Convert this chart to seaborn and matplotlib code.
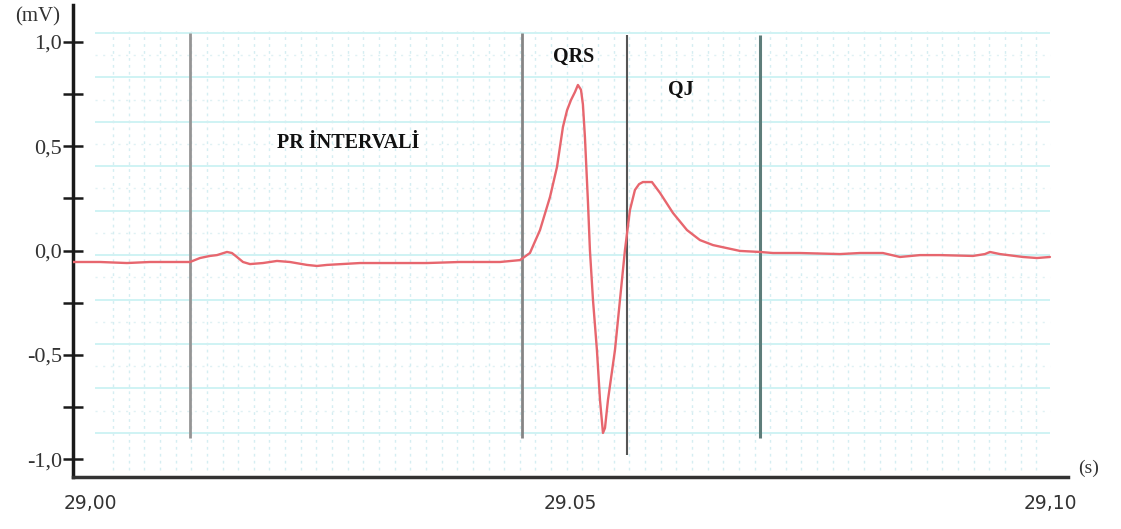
import numpy as np
import pandas as pd
import matplotlib
matplotlib.use("Agg")
import matplotlib.pyplot as plt
import seaborn as sns
from matplotlib.ticker import FixedLocator, FixedFormatter, NullFormatter

# ---------------- data ----------------
time_s = [28.99823, 29.00104, 29.00385, 29.00625, 29.01042, 29.01146, 29.01250,
          29.01323, 29.01427, 29.01479, 29.01531, 29.01594, 29.01667, 29.01802,
          29.01948, 29.02083, 29.02260, 29.02365, 29.02469, 29.02813, 29.03156,
          29.03510, 29.03854, 29.04271, 29.04479, 29.04583, 29.04688, 29.04792,
          29.04865, 29.04927, 29.04970, 29.05010, 29.05052, 29.05083, 29.05115,
          29.05135, 29.05156, 29.05188, 29.05208, 29.05240, 29.05281, 29.05313,
          29.05344, 29.05365, 29.05396, 29.05469, 29.05521, 29.05573, 29.05625,
          29.05677, 29.05720, 29.05760, 29.05854, 29.05938, 29.06073, 29.06219,
          29.06354, 29.06490, 29.06771, 29.06979, 29.07115, 29.07396, 29.07813,
          29.08021, 29.08260, 29.08438, 29.08646, 29.08854, 29.09198, 29.09323,
          29.09375, 29.09427, 29.09479, 29.09719, 29.09865, 29.10000]
voltage_mv = [-0.055, -0.055, -0.060, -0.055, -0.055, -0.036, -0.026,
              -0.022, -0.007, -0.012, -0.031, -0.055, -0.065, -0.060,
              -0.050, -0.055, -0.069, -0.074, -0.069, -0.060, -0.060,
              -0.060, -0.055, -0.055, -0.046, -0.012, 0.098, 0.256,
              0.400, 0.592, 0.672, 0.720, 0.759, 0.793, 0.770,
              0.700, 0.544, 0.228, 0.002, -0.237, -0.477, -0.716,
              -0.874, -0.850, -0.716, -0.477, -0.237, 0.002, 0.194,
              0.290, 0.318, 0.328, 0.328, 0.276, 0.180, 0.098,
              0.050, 0.026, -0.002, -0.007, -0.012, -0.012, -0.017,
              -0.012, -0.012, -0.031, -0.022, -0.022, -0.026, -0.017,
              -0.007, -0.012, -0.017, -0.031, -0.036, -0.031]

interval_bounds = [29.0104, 29.0450, 29.0559, 29.0698]
interval_labels = ["PR İNTERVALİ", "QRS", "QJ"]
label_x = [29.0269, 29.0504, 29.0616]
label_y = [0.515, 0.927, 0.769]

y_ticks = [-1.0, -0.5, 0.0, 0.5, 1.0]
y_tick_labels = ["-1,0", "-0,5", "0,0", "0,5", "1,0"]
y_minor_ticks = [-0.75, -0.25, 0.25, 0.75]
x_ticks = [29.00, 29.05, 29.10]
x_tick_labels = ["29,00", "29.05", "29,10"]

df = pd.DataFrame({"time_s": time_s, "voltage_mv": voltage_mv})

# ---------------- style ----------------
sns.set_theme(style="white")
plt.rcParams['font.family'] = ['Liberation Serif', 'DejaVu Sans']

fig = plt.figure(figsize=(11.21, 5.29), dpi=100)
ax = fig.add_axes([0.0651, 0.0983, 0.8876, 0.8922])
ax.set_xlim(28.99823, 29.10188)
ax.set_ylim(-1.085, 1.176)

# ECG paper-like grid (decoration)
h_major = 1.042 - 0.2128 * np.arange(10)
ax.hlines(h_major, 29.0005, 29.1000, color="#ccf2f3", lw=1.3, zorder=1)
h_minor = h_major[:-1] - 0.1064
ax.hlines(h_minor, 29.0005, 29.1000, color="#e0f1f4", lw=1.0,
          linestyles=(0, (1.5, 4)), zorder=1)
v_grid = np.arange(29.0024, 29.1002, 0.00163)
ax.vlines(v_grid, -1.05, 1.05, color="#d5eef2", lw=1.0,
          linestyles=(0, (2, 3)), zorder=1)

# interval boundary lines
vl_colors = ["#959595", "#858585", "#555555", "#5e7d7a"]
vl_widths = [2.0, 2.0, 1.5, 2.2]
vl_top = [1.042, 1.042, 1.033, 1.033]
vl_bottom = [-0.899, -0.899, -0.980, -0.899]
for xb, c, w, t, b in zip(interval_bounds, vl_colors, vl_widths, vl_top, vl_bottom):
    ax.vlines(xb, b, t, color=c, lw=w, zorder=2)

# signal
sns.lineplot(data=df, x="time_s", y="voltage_mv", ax=ax, color="#e7666e",
             lw=1.7, sort=False, estimator=None, zorder=3)
ax.set_xlabel("")
ax.set_ylabel("")

# labels of intervals
for txt, lx, ly in zip(interval_labels, label_x, label_y):
    ax.text(lx, ly, txt, ha="center", va="center", fontsize=14.5,
            fontweight="bold", color="#111111",
            family=["Liberation Serif", "DejaVu Serif"], zorder=4)

# spines
for s in ["top", "right"]:
    ax.spines[s].set_visible(False)
ax.spines["left"].set_color("#1a1a1a")
ax.spines["left"].set_linewidth(2.5)
ax.spines["bottom"].set_color("#333333")
ax.spines["bottom"].set_linewidth(2.5)

# y ticks
ax.yaxis.set_major_locator(FixedLocator(y_ticks))
ax.yaxis.set_major_formatter(FixedFormatter(y_tick_labels))
ax.yaxis.set_minor_locator(FixedLocator(y_minor_ticks))
ax.tick_params(axis="y", which="both", direction="inout", length=14,
               width=1.8, color="#1a1a1a", left=True, pad=1)
for lab in ax.get_yticklabels():
    lab.set_fontsize(16)
    lab.set_color("#333333")
    lab.set_family(["Liberation Serif", "DejaVu Serif"])

# x ticks
ax.xaxis.set_major_locator(FixedLocator(x_ticks))
ax.xaxis.set_major_formatter(FixedFormatter(x_tick_labels))
ax.xaxis.set_minor_locator(FixedLocator([x_ticks[-1]]))
ax.xaxis.set_minor_formatter(NullFormatter())
ax.tick_params(axis="x", which="major", length=0, pad=12, bottom=True)
ax.tick_params(axis="x", which="minor", direction="inout", length=9,
               width=1.8, color="#222222", bottom=True)
for lab in ax.get_xticklabels():
    lab.set_fontsize(13.5)
    lab.set_color("#333333")
    lab.set_family(["DejaVu Sans"])

# units
fig.text(38 / 1121, 1 - 17 / 529, "(mV)", ha="center", va="center",
         fontsize=15, color="#333333", family=["Liberation Serif", "DejaVu Serif"])
fig.text(1089 / 1121, 1 - 468 / 529, "(s)", ha="center", va="center",
         fontsize=14, color="#333333", family=["Liberation Serif", "DejaVu Serif"])

fig.savefig("out.png", dpi=100, facecolor="white")
